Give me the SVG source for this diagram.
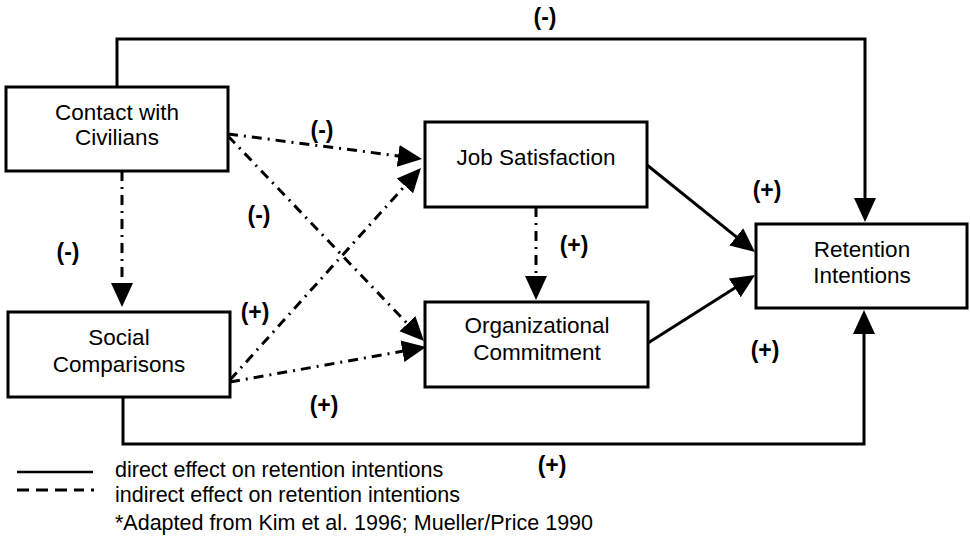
<svg xmlns="http://www.w3.org/2000/svg" width="970" height="539" viewBox="0 0 970 539">
<defs>
<style>
.box{fill:#fff;stroke:#000;stroke-width:3}
.nt{font-family:"Liberation Sans",Arial,sans-serif;font-size:22.5px;fill:#000;text-anchor:middle}
.lb{font-family:"Liberation Sans",Arial,sans-serif;font-size:23px;font-weight:bold;fill:#000;text-anchor:middle}
.lg{font-family:"Liberation Sans",Arial,sans-serif;font-size:21.5px;fill:#000}
.solid{fill:none;stroke:#000;stroke-width:3}
.dd{fill:none;stroke:#000;stroke-width:3;stroke-dasharray:10 6 2 6}
</style>
<marker id="ah" markerUnits="userSpaceOnUse" markerWidth="26" markerHeight="24" refX="14" refY="12" orient="auto">
<path d="M0,1 L24,12 L0,23 z" fill="#000"/>
</marker>
</defs>
<rect width="970" height="539" fill="#fff"/>
<g id="connectors">
<path class="solid" d="M117,87 V39 H865 V212" marker-end="url(#ah)"/>
<path class="solid" d="M123,397 V444 H864 V320" marker-end="url(#ah)"/>
<path class="dd" d="M122,171 V297" marker-end="url(#ah)"/>
<path class="dd" d="M536,207 V290" marker-end="url(#ah)"/>
<path class="dd" d="M228,134 L412.1,157.7" marker-end="url(#ah)"/>
<path class="dd" d="M228,136 L417.1,333.8" marker-end="url(#ah)"/>
<path class="dd" d="M230,380 L414.3,175.4" marker-end="url(#ah)"/>
<path class="dd" d="M230,382 L416.2,348.8" marker-end="url(#ah)"/>
<path class="solid" d="M647,165 L747.2,245.7" marker-end="url(#ah)"/>
<path class="solid" d="M648,343 L746.6,280.4" marker-end="url(#ah)"/>
</g>
<g id="labels">
<text class="lb" x="545" y="25">(-)</text>
<text class="lb" x="322" y="138">(-)</text>
<text class="lb" x="259" y="223">(-)</text>
<text class="lb" x="68" y="260">(-)</text>
<text class="lb" x="255" y="320">(+)</text>
<text class="lb" x="324" y="413">(+)</text>
<text class="lb" x="574" y="253">(+)</text>
<text class="lb" x="767" y="198">(+)</text>
<text class="lb" x="765" y="358">(+)</text>
<text class="lb" x="552" y="473">(+)</text>
</g>
<g id="contact">
<rect class="box" x="6" y="87" width="222" height="84"/>
<text class="nt" x="117" y="120">Contact with</text>
<text class="nt" x="117" y="145">Civilians</text>
</g>
<g id="social">
<rect class="box" x="8" y="312" width="222" height="85"/>
<text class="nt" x="119" y="345">Social</text>
<text class="nt" x="119" y="372">Comparisons</text>
</g>
<g id="job">
<rect class="box" x="425" y="122" width="222" height="85"/>
<text class="nt" x="536" y="165">Job Satisfaction</text>
</g>
<g id="org">
<rect class="box" x="425" y="302" width="223" height="85"/>
<text class="nt" x="537" y="333">Organizational</text>
<text class="nt" x="537" y="360">Commitment</text>
</g>
<g id="retention">
<rect class="box" x="756" y="224" width="211" height="84"/>
<text class="nt" x="862" y="257">Retention</text>
<text class="nt" x="862" y="283">Intentions</text>
</g>
<g id="legend">
<line x1="17" y1="472" x2="93" y2="472" stroke="#000" stroke-width="2.5"/>
<line x1="17" y1="490" x2="84" y2="490" stroke="#000" stroke-width="3" stroke-dasharray="12 7"/>
<line x1="91" y1="490" x2="94" y2="490" stroke="#000" stroke-width="3"/>
<text class="lg" x="115" y="477">direct effect on retention intentions</text>
<text class="lg" x="115" y="502">indirect effect on retention intentions</text>
<text class="lg" x="115" y="530">*Adapted from Kim et al. 1996; Mueller/Price 1990</text>
</g>
</svg>
